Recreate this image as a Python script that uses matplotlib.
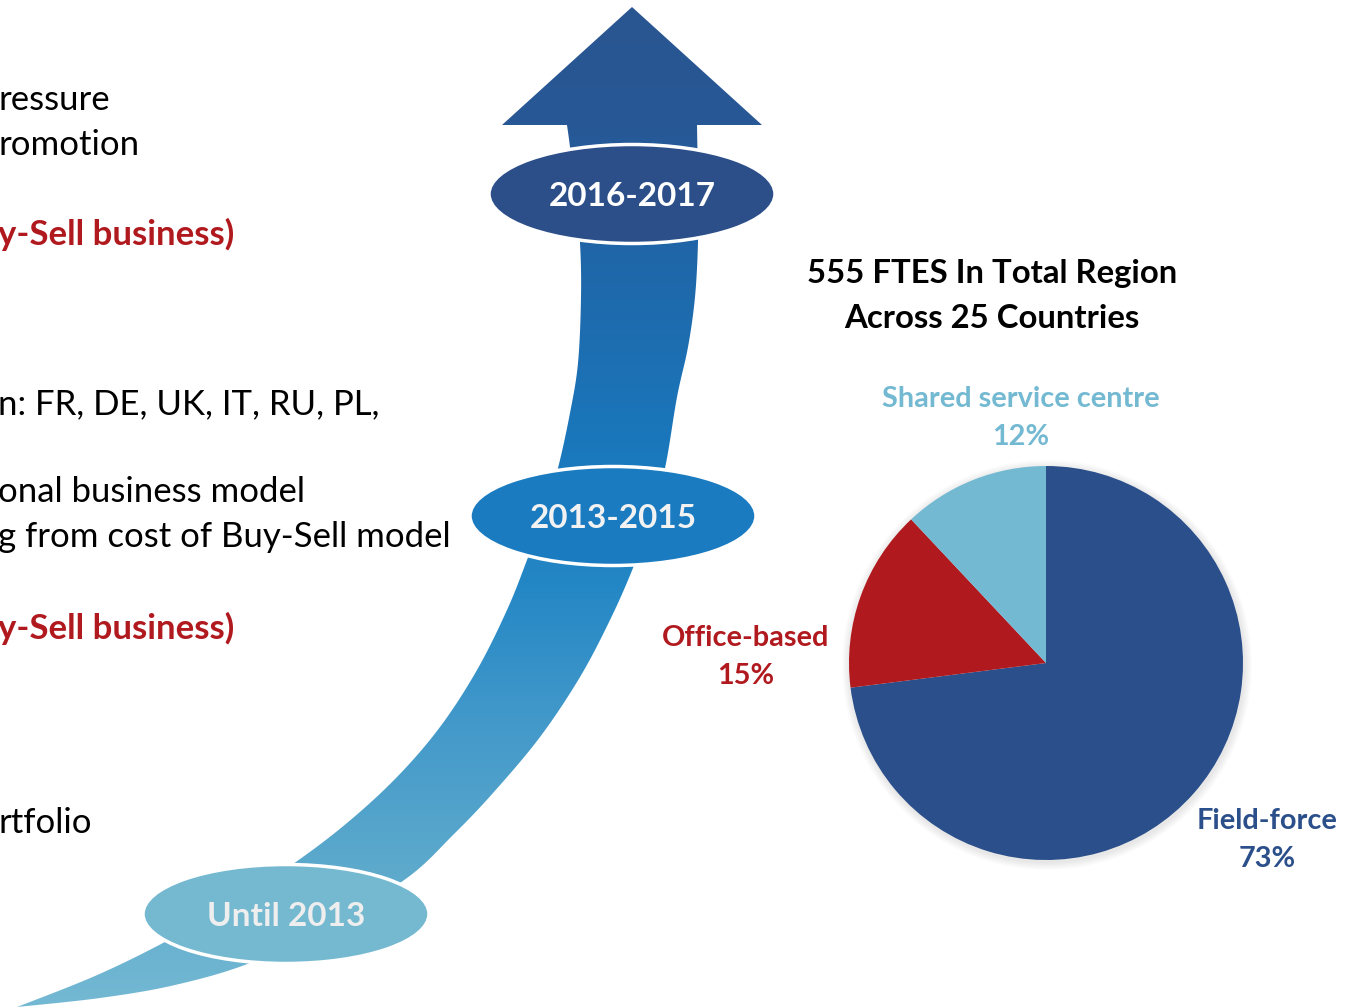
import numpy as np
import matplotlib.pyplot as plt
from matplotlib.patches import Polygon, Ellipse, Circle
from matplotlib.colors import LinearSegmentedColormap

plt.rcParams['font.family'] = ['Lato', 'DejaVu Sans']

# pie data
pie_labels = ['Field-force', 'Office-based', 'Shared service centre']
pie_values = [73, 15, 12]
pie_colors = ['#2B4F8A', '#B0191E', '#74B9D2']

# timeline stages
stages = ['Until 2013', '2013-2015', '2016-2017']
stage_colors = ['#75B9D1', '#1A7BC1', '#2C4F89']
stage_text = ['#EEEEEE', '#F2F2F2', '#FFFFFF']

# left text fragments (cut at left edge in the original)
left_lines = ['ressure', 'romotion', 'y-Sell business)', 'n: FR, DE, UK, IT, RU, PL,',
              'onal business model', 'g from cost of Buy-Sell model', 'y-Sell business)', 'rtfolio']
left_y = [100, 145, 234, 404, 492, 537, 628, 823]
left_red = [False, False, True, False, False, False, True, False]

title_lines = ['555 FTES In Total Region', 'Across 25 Countries']

W, H = 1361, 1008
fig = plt.figure(figsize=(W / 100, H / 100), dpi=100)
ax = fig.add_axes([0, 0, 1, 1])


def smooth(pts, n=12):
    # catmull-rom through the given points
    p = np.array(pts, dtype=float)
    p = np.vstack([p[0], p, p[-1]])
    out = []
    for i in range(1, len(p) - 2):
        p0, p1, p2, p3 = p[i - 1], p[i], p[i + 1], p[i + 2]
        for t in np.linspace(0, 1, n, endpoint=False):
            out.append(0.5 * (2 * p1 + (-p0 + p2) * t + (2 * p0 - 5 * p1 + 4 * p2 - p3) * t ** 2
                              + (-p0 + 3 * p1 - 3 * p2 + p3) * t ** 3))
    out.append(p[-2])
    return [tuple(q) for q in out]


# curved arrow band (pixel coords, y downwards)
left_edge = [(17, 1007), (95, 976), (163, 943), (230, 905), (293, 864), (347, 823), (397, 777),
             (440, 727), (477, 670), (507, 610), (527, 560), (545, 510), (558, 468), (570, 413),
             (578, 363), (581, 297), (580, 243), (575, 190), (570, 147), (567, 125)]
right_edge = [(17, 1007), (100, 998), (175, 985), (250, 963), (330, 925), (407, 878), (453, 835),
              (493, 793), (540, 737), (580, 677), (610, 620), (633, 568), (650, 520), (665, 468),
              (677, 397), (688, 347), (695, 297), (698, 242), (698, 190), (697, 125)]
head = [(502, 125), (632, 7), (762, 125)]
outline = smooth(left_edge) + head + smooth(right_edge)[::-1]

band = Polygon(outline, closed=True, transform=ax.transData, facecolor='none', edgecolor='none')
ax.add_patch(band)
grad_cmap = LinearSegmentedColormap.from_list('band', [
    (0.0, '#2A5590'), (0.125, '#275896'), (0.25, '#1F66A8'), (0.45, '#1A78BC'),
    (0.58, '#2487C5'), (0.72, '#4399CA'), (0.85, '#5AA8CC'), (1.0, '#74B9D3')])
grad = np.linspace(0, 1, 512).reshape(-1, 1)
img = ax.imshow(grad, cmap=grad_cmap, aspect='auto', extent=(0, W, H, 0), origin='upper', zorder=1)
img.set_clip_path(band)

# stage ellipses
centers = [(286, 914), (613, 516), (632, 194)]
for (cx, cy), lab, col, tc in zip(centers, stages, stage_colors, stage_text):
    ax.add_patch(Ellipse((cx, cy), 286, 99, facecolor=col, edgecolor='white', lw=2.5, zorder=3))
    ax.text(cx, cy + 2, lab, ha='center', va='center', fontsize=24, fontweight='bold', color=tc, zorder=4)

# left text
for txt, y, red in zip(left_lines, left_y, left_red):
    ax.text(-2, y, txt, ha='left', va='center', fontsize=25,
            fontweight='bold' if red else 'normal', color='#B0191E' if red else 'black')

# title
ax.text(992, 273, title_lines[0], ha='center', va='center', fontsize=23.7, fontweight='bold')
ax.text(992, 318, title_lines[1], ha='center', va='center', fontsize=23.7, fontweight='bold')

# pie with soft shadow
pc, pr = (1046, 663), 197
for k in range(8):
    ax.add_patch(Circle((pc[0] + 1, pc[1] + 2), pr + 1 + k, facecolor='#000000', alpha=0.012, lw=0, zorder=1))
ax.pie(pie_values, colors=pie_colors, center=pc, radius=pr, startangle=-90, counterclock=True,
       wedgeprops=dict(linewidth=0), frame=True)
for w in ax.patches[-3:]:
    w.set_zorder(2)

label_pos = [(1267, 821), (746, 638), (1021, 399)]
for (lx, ly), lab, val, col in zip(label_pos, pie_labels, pie_values, pie_colors):
    ax.text(lx, ly, lab, ha='center', va='center', fontsize=20.8, fontweight='bold', color=col)
    ax.text(lx, ly + 38, f'{val}%', ha='center', va='center', fontsize=20.8, fontweight='bold', color=col)

ax.set_xlim(0, W)
ax.set_ylim(H, 0)
ax.set_aspect('auto')
ax.axis('off')
fig.savefig('out.png', dpi=100)
